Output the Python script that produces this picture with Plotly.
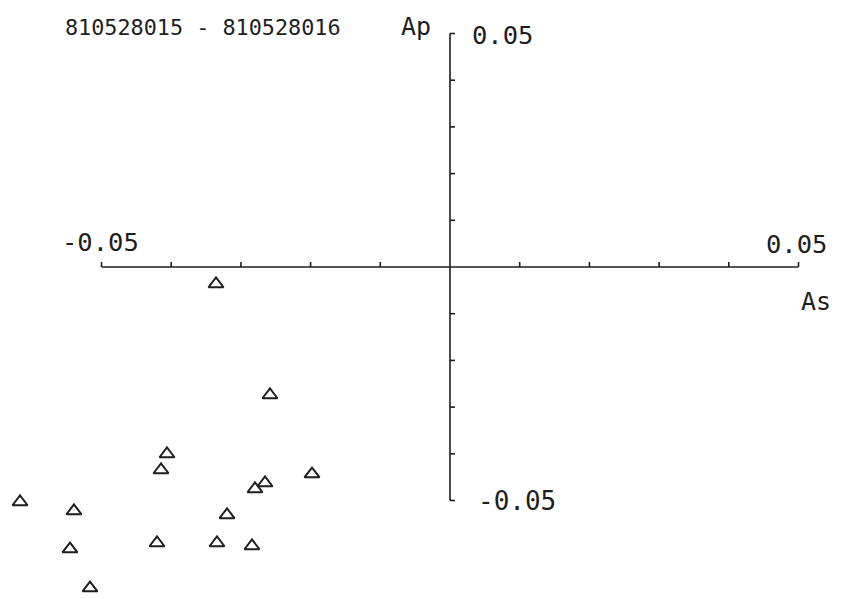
import plotly.graph_objects as go

# data (As, Ap)
as_vals = [-0.02583, -0.04060, -0.04146, -0.01980, -0.02654, -0.02798, -0.06169, -0.05395,
           -0.03199, -0.04204, -0.03343, -0.02841, -0.05452, -0.05165, -0.03357]
ap_vals = [-0.02741, -0.04004, -0.04347, -0.04433, -0.04625, -0.04754, -0.05032, -0.05225,
           -0.05310, -0.05910, -0.05910, -0.05974, -0.06039, -0.06874, -0.00364]

x_ticks = [-0.05, -0.04, -0.03, -0.02, -0.01, 0.0, 0.01, 0.02, 0.03, 0.04, 0.05]
y_ticks = [-0.05, -0.04, -0.03, -0.02, -0.01, 0.0, 0.01, 0.02, 0.03, 0.04, 0.05]
title_text = "810528015 - 810528016"

# page has an 8px body margin, so the figure is 8px smaller than the window
W, H = 838, 591
xr = [-0.063415, 0.056815]
yr = [-0.071092, 0.055460]
xs = (xr[1] - xr[0]) / W   # data units per px
ys = (yr[1] - yr[0]) / H

fig = go.Figure()
fig.add_trace(go.Scatter(
    x=as_vals, y=ap_vals, mode="markers",
    marker=dict(symbol="triangle-up-open", size=13, color="#1e1e1e",
                line=dict(width=2, color="#1e1e1e")),
    showlegend=False, hoverinfo="x+y"))

lc = "#1e1e1e"
lw = 1.6
shapes = [
    dict(type="line", x0=x_ticks[0], x1=x_ticks[-1], y0=0, y1=0, line=dict(color=lc, width=lw)),
    dict(type="line", x0=0, x1=0, y0=y_ticks[0], y1=y_ticks[-1], line=dict(color=lc, width=lw)),
]
for t in x_ticks:
    if t != 0:
        shapes.append(dict(type="line", x0=t, x1=t, y0=0, y1=5 * ys, line=dict(color=lc, width=lw)))
for t in y_ticks:
    if t != 0:
        shapes.append(dict(type="line", x0=0, x1=5 * xs, y0=t, y1=t, line=dict(color=lc, width=lw)))

mono = "DejaVu Sans Mono"


def lab(x, y, text, size):
    return dict(x=x, y=y, text=text, xanchor="left", yanchor="middle",
                font=dict(family=mono, size=size, color="#1e1e1e"),
                showarrow=False, borderpad=0)


ann = [
    lab(-0.05540, 0.05128, title_text, 21.8),
    lab(-0.00720, 0.05160, "Ap", 25),
    lab(0.00300, 0.04968, f"{y_ticks[-1]:.2f}", 25.5),
    lab(x_ticks[0] - 0.00585, 0.00535, f"{x_ticks[0]:.2f}", 25.5),
    lab(x_ticks[-1] - 0.00485, 0.00503, f"{x_ticks[-1]:.2f}", 25.5),
    lab(0.05020, -0.00730, "As", 25),
    lab(0.00390, y_ticks[0], f"{y_ticks[0]:.2f}", 26),
]

fig.update_layout(
    width=W, height=H, margin=dict(l=0, r=0, t=0, b=0),
    paper_bgcolor="white", plot_bgcolor="white",
    xaxis=dict(range=xr, visible=False, fixedrange=True),
    yaxis=dict(range=yr, visible=False, fixedrange=True),
    shapes=shapes, annotations=ann,
)
fig.write_html("out.html")
